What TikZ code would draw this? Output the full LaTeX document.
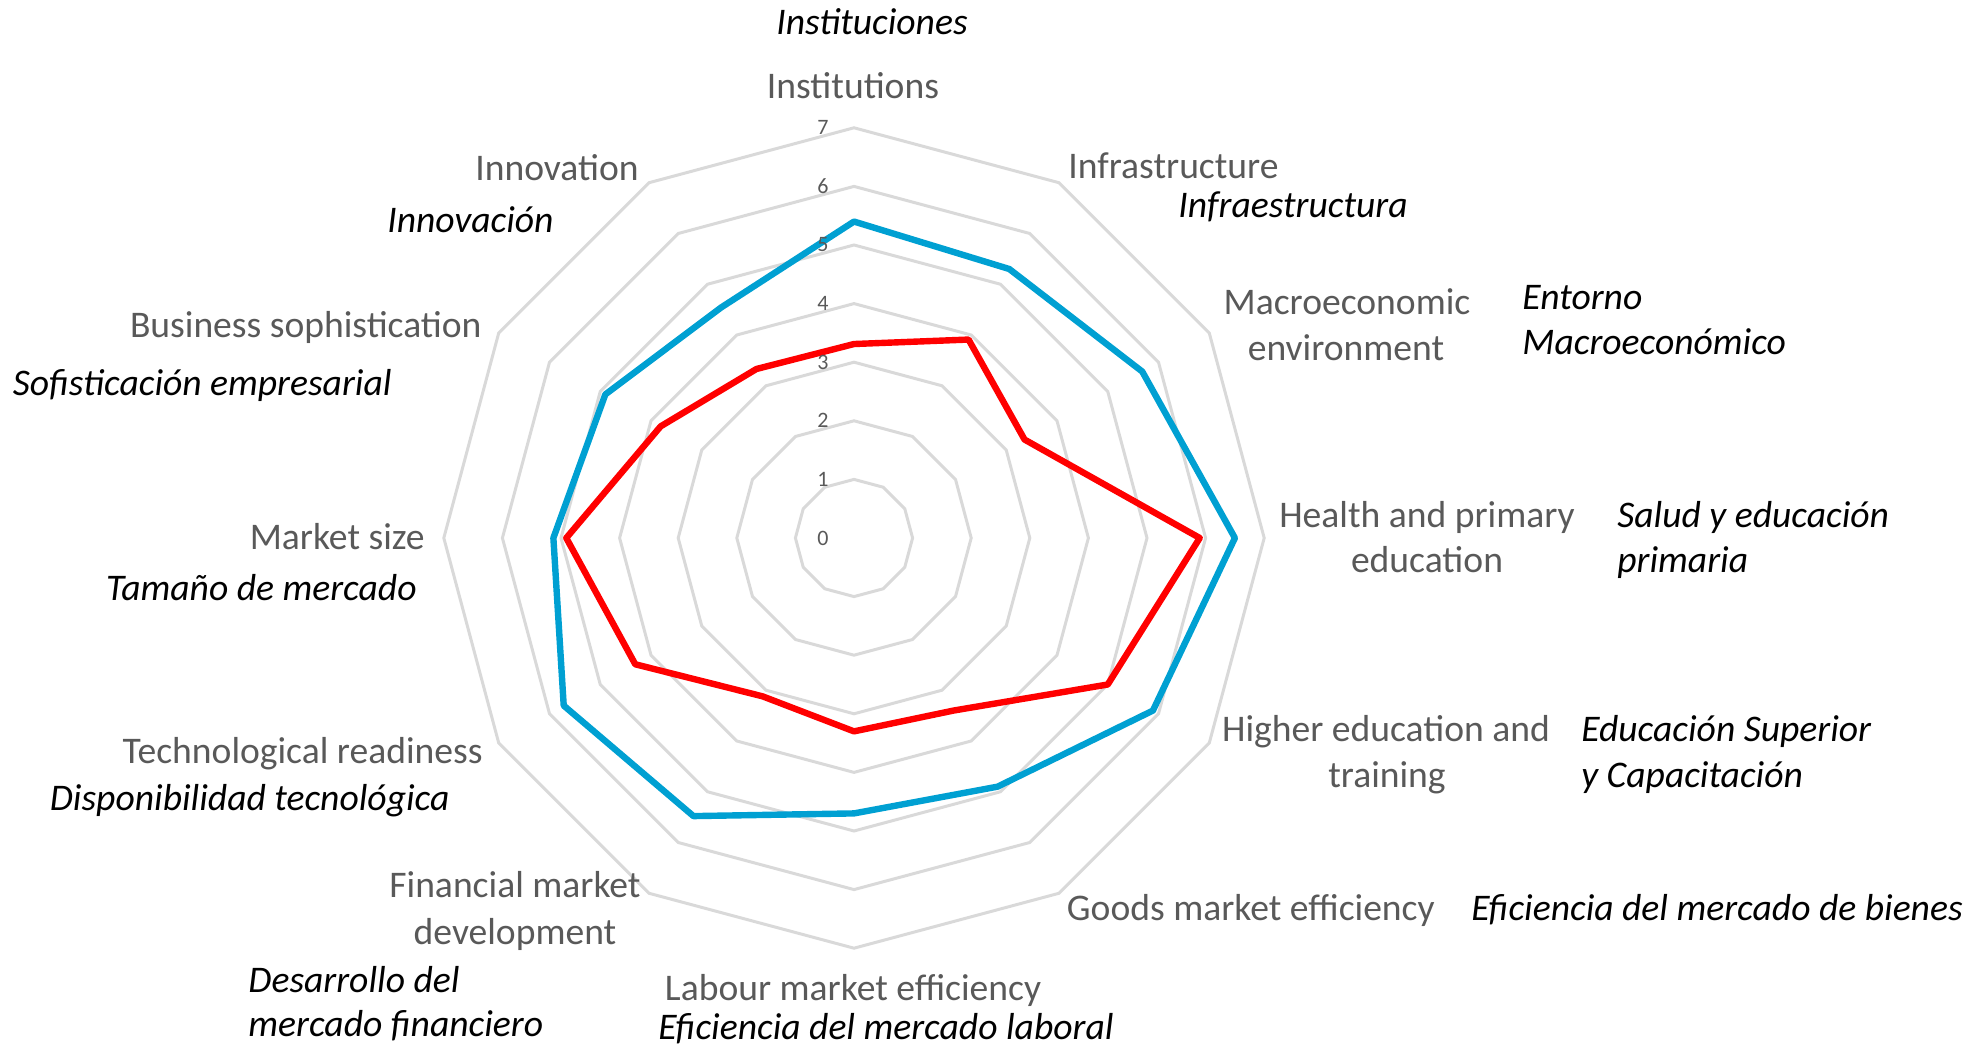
\documentclass[tikz,border=0pt]{standalone}
\usepackage{fontspec}
\setmainfont{Carlito}
\definecolor{txtgray}{RGB}{89,89,89}
\definecolor{ringgray}{RGB}{217,217,217}
\definecolor{blueS}{RGB}{0,160,210}
\definecolor{redS}{RGB}{255,0,0}
\begin{document}
\begin{tikzpicture}[x=0.5pt,y=0.5pt,
  en/.style={text=txtgray, font=\fontsize{18.8}{22}\selectfont, inner sep=0pt, yshift=-3.8pt},
  es/.style={text=black, font=\fontsize{18.8}{22}\selectfont\itshape, inner sep=0pt, yshift=-3.8pt},
  tick/.style={text=txtgray, font=\fontsize{11}{13}\selectfont, inner sep=0pt},
  ring/.style={draw=ringgray, line width=1.5pt, line join=miter},
  serie/.style={line width=3.2pt, line join=round}]
\useasboundingbox (0,0) rectangle (1977,1050);
\begin{scope}[shift={(854,512)}, x=29.3pt, y=29.3pt]
  \foreach \k in {1,...,7}
    \draw[ring] (90:\k) \foreach \i in {1,...,11}{ -- (90-30*\i:\k)} -- cycle;
  \draw[serie, draw=blueS] (90:5.40) -- (60:5.30) -- (30:5.68) -- (0:6.50) -- (-30:5.89) -- (-60:4.90) -- (-90:4.70) -- (-120:5.48) -- (-150:5.72) -- (180:5.13) -- (150:4.90) -- (120:4.54) -- cycle;
  \draw[serie, draw=redS] (90:3.31) -- (60:3.91) -- (30:3.36) -- (0:5.90) -- (-30:5.00) -- (-60:3.40) -- (-90:3.30) -- (-120:3.12) -- (-150:4.31) -- (180:4.91) -- (150:3.81) -- (120:3.33) -- cycle;
  \foreach \k in {0,...,7}
    \node[tick] (t\k) at (-0.53,\k) {\k};
\end{scope}
% English labels
\node[en, anchor=mid] (instEN) at (853,964) {Institutions};
\node[en, anchor=mid west] (infraEN) at (1068,884) {Infrastructure};
\node[en, anchor=mid] (macroENa) at (1347,748) {Macroeconomic};
\node[en, anchor=mid] (macroENb) at (1346,702) {environment};
\node[en, anchor=mid] (healthENa) at (1427,535) {Health and primary};
\node[en, anchor=mid] (healthENb) at (1427,490) {education};
\node[en, anchor=mid] (higherENa) at (1386,321) {Higher education and};
\node[en, anchor=mid] (higherENb) at (1387,275) {training};
\node[en, anchor=mid east] (goodsEN) at (1435,142) {Goods market efficiency};
\node[en, anchor=mid] (labourEN) at (853,62) {Labour market efficiency};
\node[en, anchor=mid] (finENa) at (515,165) {Financial market};
\node[en, anchor=mid] (finENb) at (515,118) {development};
\node[en, anchor=mid east] (techEN) at (483,299) {Technological readiness};
\node[en, anchor=mid east] (marketEN) at (425,513) {Market size};
\node[en, anchor=mid east] (busEN) at (482,725) {Business sophistication};
\node[en, anchor=mid east] (innoEN) at (639,882) {Innovation};
% Spanish labels
\node[es, anchor=mid] (instES) at (872,1028) {Instituciones};
\node[es, anchor=mid west] (infraES) at (1178,845) {Infraestructura};
\node[es, anchor=mid west] (macroESa) at (1522,753) {Entorno};
\node[es, anchor=mid west] (macroESb) at (1522,708) {Macroeconómico};
\node[es, anchor=mid west] (healthESa) at (1617,535) {Salud y educación};
\node[es, anchor=mid west] (healthESb) at (1617,490) {primaria};
\node[es, anchor=mid west] (higherESa) at (1581,321) {Educación Superior};
\node[es, anchor=mid west] (higherESb) at (1581,275) {y Capacitación};
\node[es, anchor=mid west] (goodsES) at (1471,142) {Eficiencia del mercado de bienes};
\node[es, anchor=mid] (labourES) at (886,23) {Eficiencia del mercado laboral};
\node[es, anchor=mid west] (finESa) at (248,70) {Desarrollo del};
\node[es, anchor=mid west] (finESb) at (248,26) {mercado financiero};
\node[es, anchor=mid east] (techES) at (450,252) {Disponibilidad tecnológica};
\node[es, anchor=mid east] (marketES) at (417,462) {Tamaño de mercado};
\node[es, anchor=mid east] (busES) at (392,667) {Sofisticación empresarial};
\node[es, anchor=mid east] (innoES) at (554,830) {Innovación};
\end{tikzpicture}
\end{document}
